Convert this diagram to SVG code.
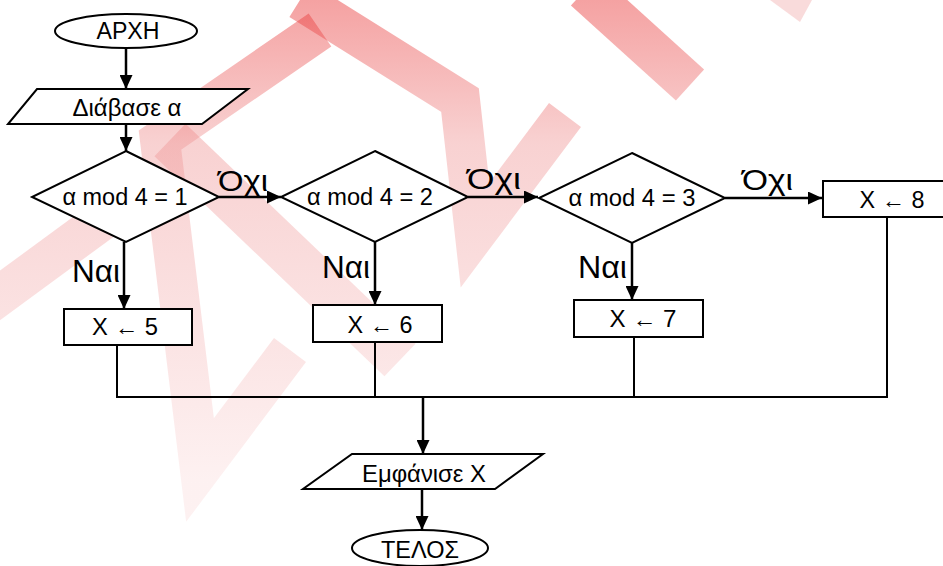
<svg xmlns="http://www.w3.org/2000/svg" width="943" height="566" viewBox="0 0 943 566">
<defs>
<style>
.n{fill:#fff;stroke:#000;stroke-width:2}
.t{font-family:"Liberation Sans",Arial,sans-serif;font-size:23px;fill:#000;text-anchor:middle}
.l{font-family:"Liberation Sans",Arial,sans-serif;fill:#000}
.c{fill:none;stroke:#000;stroke-width:2.5}
.w{fill:none;stroke:url(#wg);stroke-linejoin:miter;opacity:0.45}
</style>
<linearGradient id="wg" gradientUnits="userSpaceOnUse" x1="0" y1="0" x2="0" y2="480">
<stop offset="0" stop-color="#e83030"/>
<stop offset="0.3" stop-color="#f09a9a"/>
<stop offset="1" stop-color="#fbe0e0"/>
</linearGradient>
<marker id="ah" markerUnits="userSpaceOnUse" markerWidth="15" markerHeight="13" refX="14" refY="6.5" orient="auto">
<path d="M0,0 L14,6.5 L0,13 z" fill="#000"/>
</marker>
</defs>
<rect width="943" height="566" fill="#fff"/>
<g id="watermark">
<polyline class="w" stroke-width="40" points="-20,310 130,200"/>
<polyline class="w" stroke-width="40" points="320,30 160,140 200,470 290,350"/>
<polyline class="w" stroke-width="45" points="170,140 400,360"/>
<polyline class="w" stroke-width="40" points="300,0 460,100 475,235 565,115"/>
<polyline class="w" stroke-width="42" points="585,-10 690,85"/>
<polygon points="770,0 812,0 800,22" fill="#f3b8b8" opacity="0.5"/>
</g>
<g id="connectors">
<line class="c" x1="126" y1="49" x2="126" y2="89" marker-end="url(#ah)"/>
<line class="c" x1="126" y1="124" x2="126" y2="151" marker-end="url(#ah)"/>
<line class="c" x1="219" y1="197" x2="281" y2="197" marker-end="url(#ah)"/>
<line class="c" x1="468" y1="197" x2="538" y2="197" marker-end="url(#ah)"/>
<line class="c" x1="725" y1="198" x2="822" y2="198" marker-end="url(#ah)"/>
<line class="c" x1="124" y1="242" x2="124" y2="309" marker-end="url(#ah)"/>
<line class="c" x1="375" y1="242" x2="375" y2="305" marker-end="url(#ah)"/>
<line class="c" x1="632" y1="243" x2="632" y2="300" marker-end="url(#ah)"/>
<polyline fill="none" stroke="#000" stroke-width="2" points="117,345 117,397 887,397 887,217"/>
<line stroke="#000" stroke-width="2" x1="375" y1="342" x2="375" y2="397"/>
<line stroke="#000" stroke-width="2" x1="634" y1="337" x2="634" y2="397"/>
<line class="c" x1="423" y1="397" x2="423" y2="454" marker-end="url(#ah)"/>
<line class="c" x1="422" y1="489" x2="422" y2="530" marker-end="url(#ah)"/>
<text class="l" font-size="30" x="218" y="191" textLength="50" lengthAdjust="spacingAndGlyphs">Όχι</text>
<text class="l" font-size="30" x="467" y="189" textLength="54" lengthAdjust="spacingAndGlyphs">Όχι</text>
<text class="l" font-size="30" x="742" y="190" textLength="51" lengthAdjust="spacingAndGlyphs">Όχι</text>
<text class="l" font-size="31" x="72" y="282" textLength="48" lengthAdjust="spacingAndGlyphs">Ναι</text>
<text class="l" font-size="31" x="322" y="278" textLength="48" lengthAdjust="spacingAndGlyphs">Ναι</text>
<text class="l" font-size="31" x="578" y="278" textLength="49" lengthAdjust="spacingAndGlyphs">Ναι</text>
</g>
<g id="start">
<ellipse class="n" cx="126" cy="31" rx="71" ry="17"/>
<text class="t" x="128" y="39" textLength="63" lengthAdjust="spacingAndGlyphs">ΑΡΧΗ</text>
</g>
<g id="read">
<polygon class="n" points="37,89 248,89 202,124 8,124"/>
<text class="t" x="127" y="116" textLength="109" lengthAdjust="spacingAndGlyphs">Διάβασε α</text>
</g>
<g id="dec1">
<polygon class="n" points="126,151 219,197 126,242 32,197"/>
<text class="t" x="125" y="205" textLength="125" lengthAdjust="spacingAndGlyphs">α mod 4 = 1</text>
</g>
<g id="dec2">
<polygon class="n" points="375,151 468,197 375,242 281,197"/>
<text class="t" x="370" y="205" textLength="126" lengthAdjust="spacingAndGlyphs">α mod 4 = 2</text>
</g>
<g id="dec3">
<polygon class="n" points="632,153 725,198 632,243 539,198"/>
<text class="t" x="632" y="206" textLength="127" lengthAdjust="spacingAndGlyphs">α mod 4 = 3</text>
</g>
<g id="x5">
<rect class="n" x="64" y="309" width="128" height="36"/>
<text class="t" x="125" y="335" textLength="66" lengthAdjust="spacingAndGlyphs">X ← 5</text>
</g>
<g id="x6">
<rect class="n" x="313" y="305" width="129" height="37"/>
<text class="t" x="380" y="333" textLength="65" lengthAdjust="spacingAndGlyphs">X ← 6</text>
</g>
<g id="x7">
<rect class="n" x="574" y="300" width="129" height="37"/>
<text class="t" x="643" y="327" textLength="67" lengthAdjust="spacingAndGlyphs">X ← 7</text>
</g>
<g id="x8">
<rect class="n" x="823" y="181" width="140" height="36"/>
<text class="t" x="892" y="208" textLength="65" lengthAdjust="spacingAndGlyphs">X ← 8</text>
</g>
<g id="show">
<polygon class="n" points="352,454 543,454 495,489 303,489"/>
<text class="t" x="424" y="482" textLength="124" lengthAdjust="spacingAndGlyphs">Εμφάνισε Χ</text>
</g>
<g id="end">
<ellipse class="n" cx="420" cy="548" rx="68" ry="18"/>
<text class="t" x="420" y="558" textLength="78" lengthAdjust="spacingAndGlyphs">ΤΕΛΟΣ</text>
</g>
</svg>
